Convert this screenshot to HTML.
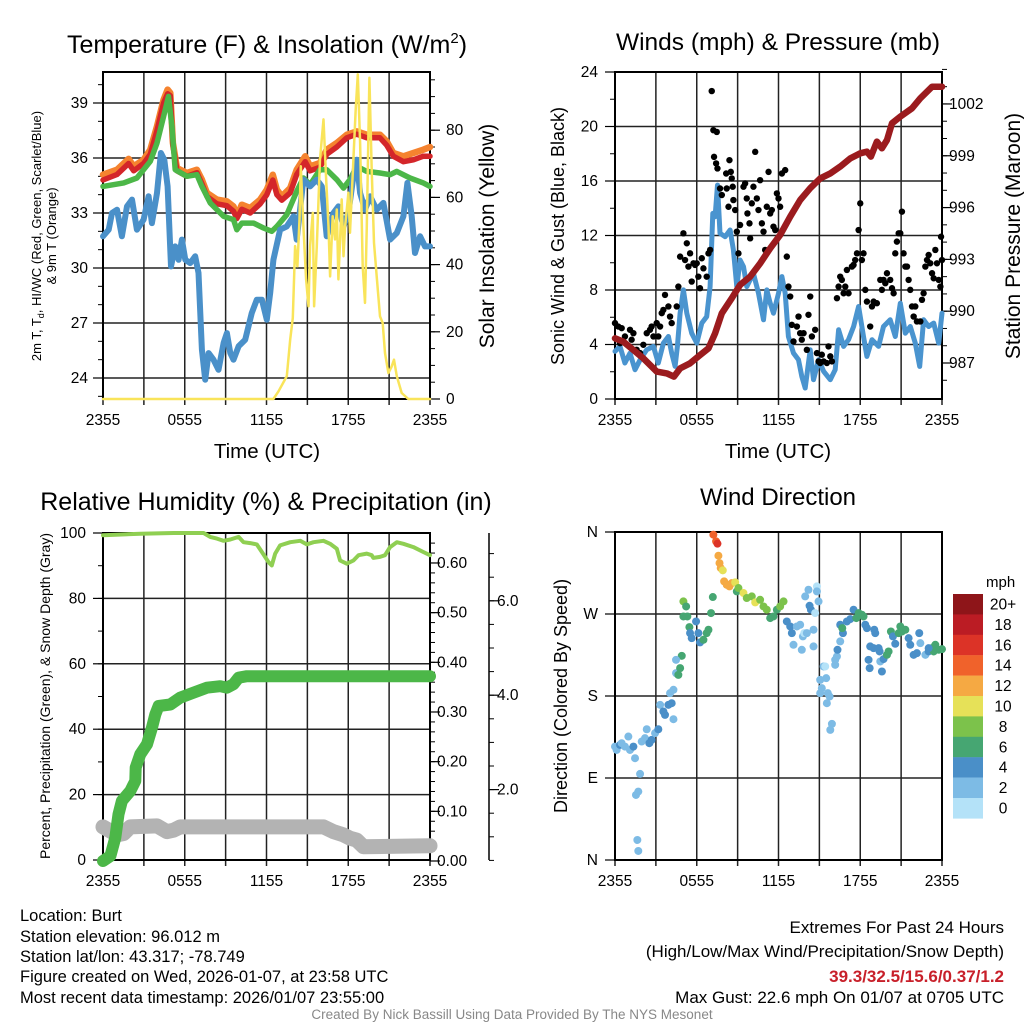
<!DOCTYPE html>
<html><head><meta charset="utf-8"><style>
html,body{margin:0;padding:0;background:#fff;}
svg{display:block;font-family:"Liberation Sans",Arial,sans-serif;}
</style></head><body>
<svg id="chart" width="1024" height="1024" viewBox="0 0 1024 1024">
<g id="g1"></g>
<g id="g2"></g>
<g id="g3"></g>
<g id="g4"></g>
<text x="267" y="53" font-size="25" text-anchor="middle">Temperature (F) &amp; Insolation (W/m<tspan dy="-10" font-size="15">2</tspan><tspan dy="10">)</tspan></text>
<text x="778" y="50" font-size="24.5" text-anchor="middle">Winds (mph) &amp; Pressure (mb)</text>
<text x="266" y="510" font-size="25" text-anchor="middle">Relative Humidity (%) &amp; Precipitation (in)</text>
<text x="778" y="505" font-size="24" text-anchor="middle">Wind Direction</text>
<g font-size="20.5" text-anchor="middle">
<text x="267" y="458">Time (UTC)</text>
<text x="778" y="458">Time (UTC)</text>
</g>
<text transform="translate(41,236) rotate(-90)" font-size="13" text-anchor="middle">2m T, T<tspan font-size="9" dy="3">d</tspan><tspan dy="-3">, HI/WC (Red, Green, Scarlet/Blue)</tspan></text>
<text transform="translate(56,236) rotate(-90)" font-size="13" text-anchor="middle">&amp; 9m T (Orange)</text>
<text transform="translate(494,236) rotate(-90)" font-size="21" text-anchor="middle">Solar Insolation (Yellow)</text>
<text transform="translate(564,236) rotate(-90)" font-size="18" text-anchor="middle">Sonic Wind &amp; Gust (Blue, Black)</text>
<text transform="translate(1020,236) rotate(-90)" font-size="21" text-anchor="middle">Station Pressure (Maroon)</text>
<text transform="translate(50,696) rotate(-90)" font-size="14" text-anchor="middle">Percent, Precipitation (Green), &amp; Snow Depth (Gray)</text>
<text transform="translate(567,696) rotate(-90)" font-size="18" text-anchor="middle">Direction (Colored By Speed)</text>
<text x="986" y="587" font-size="15">mph</text>
<g font-size="16.5">
<text x="20" y="921">Location: Burt</text>
<text x="20" y="942">Station elevation: 96.012 m</text>
<text x="20" y="962">Station lat/lon: 43.317; -78.749</text>
<text x="20" y="982">Figure created on Wed, 2026-01-07, at 23:58 UTC</text>
<text x="20" y="1003">Most recent data timestamp: 2026/01/07 23:55:00</text>
</g>
<g font-size="17" text-anchor="end">
<text x="1004" y="933">Extremes For Past 24 Hours</text>
<text x="1004" y="957">(High/Low/Max Wind/Precipitation/Snow Depth)</text>
<text x="1004" y="982" fill="#c8202a" font-weight="bold">39.3/32.5/15.6/0.37/1.2</text>
<text x="1004" y="1003">Max Gust: 22.6 mph On 01/07 at 0705 UTC</text>
</g>
<text x="512" y="1019" font-size="13.5" fill="#888" text-anchor="middle">Created By Nick Bassill Using Data Provided By The NYS Mesonet</text>
</svg>
<script>
// ---------- data (hours since 2355 UTC) ----------
const xTickLabels = ["2355","0555","1155","1755","2355"];
const tTimes = [0,1.03,1.88,2.25,2.98,3.47,3.96,4.45,4.74,4.94,5.13,5.43,6.16,6.89,7.26,7.63,8.36,9.09,9.58,9.82,10.19,10.8,11.54,12.02,12.46,12.76,13.12,13.74,14.22,14.84,15.2,15.93,16.42,17.16,17.89,18.62,19.36,20.33,20.82,21.31,22.05,22.78,23.51,24];
const temp9m = [35.09,35.36,35.95,35.55,35.91,36.45,37.73,39.18,39.73,39.55,36.82,35.45,35.18,35.36,34.82,34.09,33.73,33.64,33.36,32.82,33.45,33.27,33.73,34.27,35.09,34.27,33.91,34.36,35.36,36.09,35.55,35.73,36.45,36.82,37.27,37.45,37.27,37.27,36.91,36.27,36.09,36.27,36.45,36.6];
const temp2m = [34.8,35.1,35.7,35.3,35.7,36.2,37.5,39.0,39.5,39.4,36.7,35.3,35.0,35.2,34.6,33.9,33.5,33.4,33.1,32.7,33.2,33.0,33.5,34.0,34.8,34.0,33.7,34.1,35.1,35.8,35.3,35.5,36.2,36.6,37.1,37.3,37.1,37.1,36.7,36.1,35.8,35.9,36.1,36.1];
const dTimes = [0,1.52,2.49,3.47,3.96,4.45,4.81,5.06,5.3,6.16,6.89,7.26,7.87,8.85,9.58,9.82,10.19,11.05,11.78,12.39,12.76,13.49,14.22,14.71,15.2,15.93,16.42,17.16,17.65,18.13,18.62,19.36,20.33,21.07,21.56,22.53,23.51,24];
const dewpoint = [34.45,34.64,34.91,35.82,36.82,38.27,39.36,37.73,35.36,35.0,35.09,34.45,33.55,32.82,32.64,32.09,32.45,32.45,32.18,32.0,32.27,32.91,34.18,34.91,34.55,35.36,35.36,34.82,34.36,34.82,35.55,35.27,35.18,35.09,35.27,34.91,34.64,34.45];
const wcTimes = [0,0.42,0.66,1.03,1.39,1.76,2.13,2.49,2.98,3.35,3.59,3.96,4.25,4.5,4.74,4.99,5.3,5.55,5.79,6.04,6.4,6.77,7.01,7.26,7.5,7.75,8.11,8.48,8.85,9.09,9.34,9.58,9.95,10.44,10.92,11.29,11.66,12.02,12.27,12.51,13.0,13.49,13.98,14.22,14.71,15.2,15.69,16.06,16.42,16.91,17.28,17.65,18.01,18.38,18.62,18.87,19.23,19.6,20.09,20.58,21.07,21.56,22.05,22.34,22.66,22.9,23.27,23.63,24];
const windChill = [31.73,32.09,33.0,33.18,31.73,33.36,33.73,32.09,32.64,33.91,32.45,34.09,36.27,35.91,34.45,30.09,31.18,30.45,31.55,30.45,30.27,30.64,29.73,25.55,23.91,25.36,25.0,24.45,25.91,26.45,25.36,25.0,25.73,26.09,27.55,28.27,28.27,27.18,28.64,30.45,32.09,32.27,32.82,31.55,34.82,34.45,34.82,34.45,31.73,33.0,33.36,32.27,33.0,35.0,35.91,34.09,33.18,33.91,33.18,33.55,31.55,31.91,32.82,34.64,32.82,30.82,31.73,31.18,31.18];
const solTimes = [0,12.51,12.88,13.49,13.74,13.93,14.1,14.27,14.42,14.52,14.71,14.91,15.08,15.2,15.4,15.49,15.69,15.93,16.18,16.37,16.55,16.67,16.86,17.03,17.16,17.28,17.4,17.52,17.65,17.77,17.89,18.01,18.13,18.38,18.55,18.7,18.87,19.06,19.23,19.36,19.55,19.72,19.89,20.09,20.33,20.53,20.7,20.95,21.19,21.36,21.56,21.92,22.41,24];
const insolation = [0,0,2.3,6.8,17.7,24.1,45.5,39.5,53.4,69.3,51.4,35.6,27.6,45.5,55.4,27.6,45.5,71.3,83.2,66.3,51.4,36.5,54.4,47.5,56.4,35.6,47.5,59.4,42.5,51.4,56.4,61.4,49.5,71.3,86.2,96.6,76.3,39.5,28.6,51.4,95.6,68.3,46.5,36.5,24.6,22.6,13.7,7.7,9.7,11.7,6.8,1.8,0,0];
const tempTicks = [24,27,30,33,36,39];
const solTicks = [0,20,40,60,80];

const wTimes = [0,0.37,0.73,1.1,1.47,1.84,2.33,2.82,3.18,3.55,3.92,4.16,4.41,4.58,4.78,5.02,5.27,5.63,6.0,6.37,6.73,6.98,7.18,7.35,7.52,7.71,8.08,8.45,8.69,8.94,9.18,9.43,9.67,10.16,10.53,10.9,11.14,11.39,11.63,12.0,12.25,12.49,12.73,13.1,13.47,13.71,13.96,14.33,14.57,14.94,15.31,15.8,16.16,16.41,16.78,17.14,17.51,17.88,18.24,18.49,18.86,19.35,19.71,20.2,20.57,20.94,21.31,21.67,22.04,22.36,22.65,23.02,23.39,23.76,24];
const windSpeed = [3.49,3.86,2.64,3.37,2.15,2.88,3.61,3.86,2.64,4.1,4.59,3.37,2.39,3.86,6.3,8.01,6.3,4.83,4.1,5.57,6.05,8.25,13.62,13.38,15.7,12.16,11.91,12.4,10.94,8.25,10.2,9.72,8.25,9.23,7.76,5.81,8.01,7.03,6.3,7.76,8.98,7.76,4.59,3.37,2.88,1.66,0.81,3.61,1.42,2.88,2.03,1.42,2.15,5.08,3.86,4.35,5.32,6.79,4.59,3.13,4.35,3.86,5.32,5.81,4.59,7.03,4.83,5.32,4.1,2.39,5.81,5.32,5.57,4.1,6.3];
const gustTimes = [0,0.24,0.49,0.73,0.37,1.1,1.35,1.22,1.59,1.84,2.08,2.33,2.57,2.82,2.69,3.06,3.31,3.18,3.55,3.67,3.92,4.04,4.16,3.43,4.53,4.65,4.78,5.02,5.14,5.27,5.39,5.51,5.76,5.63,5.88,6.0,6.12,6.24,6.37,6.49,6.73,6.86,6.98,7.1,7.22,7.47,7.27,7.52,7.42,7.71,7.84,8.16,8.2,8.33,8.4,8.5,8.57,8.64,8.69,8.82,8.94,9.18,9.06,9.43,9.55,9.67,9.72,9.87,9.92,10.04,10.16,10.29,10.41,10.53,10.65,10.78,10.9,11.02,11.14,11.27,11.39,11.51,11.63,11.76,11.88,12.0,12.12,12.25,12.49,12.61,12.73,12.86,12.98,13.1,13.35,13.47,13.59,13.71,13.84,14.08,14.2,14.33,14.45,14.69,14.82,14.94,15.06,15.18,15.31,15.55,15.67,15.8,15.92,16.29,16.41,16.53,16.65,16.78,16.9,17.02,17.14,17.39,17.51,17.63,17.76,17.88,18.0,18.12,18.24,18.37,18.49,18.73,18.86,18.98,19.22,19.47,19.59,19.71,19.84,19.96,20.2,20.33,20.45,20.57,20.69,20.82,20.94,21.06,21.18,21.31,21.43,21.55,21.67,21.8,21.92,22.04,22.16,22.41,22.53,22.65,22.78,22.9,23.02,23.14,23.27,23.39,23.51,23.63,23.76,23.88,24.0,23.93];
const gustSpeed = [5.57,5.32,5.2,4.59,4.1,5.08,4.83,4.35,3.61,3.37,3.98,4.83,5.08,4.59,5.32,5.57,5.32,4.59,6.54,7.64,6.79,6.05,5.57,6.3,6.79,8.25,10.45,12.16,10.2,11.43,9.72,10.69,9.96,8.62,9.84,9.96,8.98,8.13,10.33,9.59,8.98,10.69,10.94,22.6,19.73,19.6,17.77,16.92,17.29,15.45,14.97,16.55,15.45,14.11,17.53,16.67,16.19,15.58,14.6,13.87,12.28,12.77,10.69,15.58,15.82,14.72,13.62,12.89,11.79,14.36,15.58,18.14,14.72,13.87,16.06,12.89,12.28,10.94,14.11,16.67,13.62,13.87,12.65,12.4,15.09,14.72,14.11,16.55,16.8,10.45,8.25,7.52,5.44,4.22,5.32,6.05,4.83,4.35,4.83,3.61,6.18,7.52,4.59,5.08,3.37,2.76,2.64,3.25,2.76,2.64,3.86,3.13,2.76,7.4,8.25,8.98,8.74,7.76,8.25,9.47,7.76,9.72,9.84,10.2,10.69,12.4,14.36,10.2,10.69,8.01,7.15,5.32,6.79,7.15,7.03,8.74,8.01,8.74,8.5,9.23,8.74,8.13,7.76,10.69,11.55,12.16,12.16,13.75,10.69,9.72,9.72,8.74,8.01,6.79,6.05,6.79,5.69,5.69,7.28,7.76,9.72,10.2,10.57,9.96,9.23,8.86,10.94,9.96,8.74,8.25,10.2,11.91];
const pTimes = [0,0.61,1.35,2.08,3.06,3.8,4.33,4.78,5.51,6.24,6.86,7.35,7.84,8.57,9.18,9.92,10.65,11.39,12.12,12.86,13.59,14.33,15.06,15.8,16.53,17.27,18.0,18.49,18.78,19.22,19.59,19.96,20.33,20.94,21.8,22.41,23.27,24];
const pressure = [988.43,988.24,987.75,987.27,986.5,986.4,986.21,986.69,986.98,987.46,987.85,988.72,989.88,990.75,991.52,992.0,992.77,993.64,994.41,995.47,996.44,997.12,997.69,997.98,998.37,998.85,999.14,999.24,998.95,999.82,999.43,999.91,1000.88,1001.27,1001.75,1002.33,1003.0,1003.0];
const windTicks = [0,4,8,12,16,20,24];
const presTicks = [987,990,993,996,999,1002];

const rhTimes = [0,2.74,5.18,7.38,7.87,8.36,8.85,9.34,9.95,10.31,10.8,11.29,11.66,12.15,12.39,12.64,13.0,13.74,14.47,14.96,15.45,16.18,16.67,17.16,17.4,17.89,18.38,18.75,19.36,19.72,19.84,20.33,20.7,21.07,21.56,22.05,22.78,23.51,24];
const rh = [99.3,99.8,100,100,98.8,98.3,97.6,98.0,98.8,97.2,96.9,96.5,94.2,91.1,90.1,93.7,96.2,97.2,97.6,96.5,97.2,97.6,96.7,95.2,91.6,90.6,91.6,93.2,93.7,93.2,92.4,92.7,93.2,95.7,97.2,96.7,95.7,94.2,93.2];
const prTimes = [0,0.54,0.9,1.14,1.39,2.0,2.37,2.4,2.74,3.23,3.59,3.84,4.08,4.94,5.67,6.65,7.62,8.6,9.09,9.58,9.95,10.56,24];
const precip = [0,0.01,0.047,0.094,0.121,0.141,0.161,0.188,0.215,0.235,0.268,0.295,0.312,0.315,0.329,0.339,0.349,0.352,0.349,0.356,0.369,0.372,0.372];
const snowTimes = [0,1.03,1.52,2.0,3.96,4.69,5.18,5.67,16.18,16.91,17.65,18.13,18.62,19.11,24];
const snowDepth = [1.21,1.04,1.07,1.21,1.23,1.11,1.14,1.21,1.21,1.11,1.04,0.97,0.93,0.79,0.81];
const rhTicks = [0,20,40,60,80,100];
const precipTicks = [0,0.1,0.2,0.3,0.4,0.5,0.6];
const snowTicks = [2,4,6];

const dirTimes = [0,0.12,0.37,0.49,0.73,0.98,1.1,1.35,1.47,1.84,1.54,1.71,1.64,1.71,1.96,2.2,2.33,2.52,2.69,2.94,3.18,3.31,3.55,3.67,3.92,4.16,4.29,4.04,4.29,4.48,4.65,4.78,4.9,4.48,5.02,5.22,5.02,5.31,5.46,5.51,5.63,5.95,6.12,6.24,6.49,6.73,6.86,7.05,7.18,7.22,7.42,7.52,7.59,7.67,7.76,7.91,8.01,8.2,8.4,8.57,8.82,8.94,9.06,9.43,9.67,10.04,10.29,10.65,10.9,11.14,11.39,11.63,11.88,12.12,12.37,12.61,12.86,12.98,13.1,13.35,13.59,13.79,13.89,14.08,13.71,14.57,14.57,13.96,14.2,14.82,14.82,14.94,14.28,14.38,14.69,15.31,15.06,15.43,15.5,15.18,15.06,15.62,15.75,15.55,15.92,15.8,16.16,16.29,16.16,16.33,16.53,16.73,16.53,16.68,17.02,17.27,17.51,17.71,17.88,18.12,18.24,18.37,18.49,19.03,19.1,18.73,18.98,19.35,19.42,18.61,18.69,19.47,19.59,19.71,19.96,20.08,20.25,20.4,20.57,20.82,20.94,21.06,21.31,21.55,21.67,21.92,22.16,22.33,22.41,22.78,23.02,23.27,23.51,23.76,24.0,23.39,23.02];
const dirDeg = [124.5,120.8,126.3,128.2,124.5,135.5,120.8,124.5,111.7,94.5,71.4,75.1,22.0,9.9,130.0,133.7,143.5,128.2,131.8,139.2,143.5,170.3,163.0,159.3,170.3,172.1,154.5,183.1,186.8,205.1,203.2,210.6,224.1,219.7,283.8,278.3,267.3,267.3,255.6,249.0,243.5,261.8,249.0,238.8,241.7,249.0,252.7,271.0,288.6,357.0,349.7,347.2,334.0,325.9,320.4,317.9,305.8,302.1,300.3,303.9,304.7,294.8,298.5,293.0,287.5,289.3,282.7,285.6,278.3,274.7,265.5,267.3,274.7,278.3,283.8,261.8,256.3,249.0,236.2,256.3,258.2,245.4,249.0,249.0,230.7,252.7,234.4,289.3,296.6,300.3,294.8,283.8,279.0,274.7,271.0,212.4,197.7,212.4,199.6,188.6,183.1,183.1,179.4,172.1,149.4,142.8,214.2,223.4,219.7,230.7,239.9,249.0,258.2,254.5,261.8,264.4,274.7,265.5,271.0,269.2,267.3,258.2,254.5,252.7,249.0,234.4,232.5,232.5,228.9,219.7,210.6,217.9,206.9,220.5,225.2,228.9,250.8,245.4,237.3,249.0,256.3,250.8,252.7,243.5,236.2,225.2,227.0,249.0,238.0,225.2,228.9,232.5,236.2,230.7,231.4,228.9,232.5];
const dirSpeed = [2,2,4,2,2,2,2,4,2,2,2,2,2,2,2,2,2,4,4,2,4,2,4,4,4,4,2,2,2,2,6,6,6,2,8,6,6,6,6,4,4,4,4,4,6,6,6,6,6,14,14,16,12,12,12,10,12,12,12,12,10,6,8,10,8,8,10,8,8,8,6,6,6,8,8,4,4,4,2,2,2,2,0,2,2,2,2,2,2,0,2,2,4,4,0,2,2,0,2,2,2,2,2,2,2,2,2,2,2,4,2,4,4,6,4,4,4,6,6,6,6,4,4,4,4,4,4,4,4,4,4,2,4,4,6,6,6,4,4,6,6,6,6,4,4,4,4,4,2,2,4,6,6,6,6,6,4,2];
const dirTicks = [0,90,180,270,360];
const dirTickLabels = ["N","E","S","W","N"];
const cbLabels = ["20+","18","16","14","12","10","8","6","4","2","0"];
const cbColors = ["#8e1519","#bb1c24","#dc3327","#f0622b","#f5a943","#e6e158","#7cc24b","#46a672","#4a8fc8","#7dbbe5","#b4e2f8"];

// ---------- scales ----------
const NS = "http://www.w3.org/2000/svg";
function mk(parent, tag, attrs){const e=document.createElementNS(NS,tag);for(const k in attrs)e.setAttribute(k,attrs[k]);parent.appendChild(e);return e;}
const L = {x0:103,x1:430}, R = {x0:615,x1:942};
const xL = t => L.x0 + t/24*(L.x1-L.x0);
const xR = t => R.x0 + t/24*(R.x1-R.x0);
const yTemp = v => 103 + (39-v)*55/3;
const ySol = v => 399 - v*3.36;
const yWind = v => 399 - v*327/24;
const yPres = p => 363 - (p-987)*17.27;
const yRH = v => 860 - v*3.27;
const yPr = p => 861 - p*496.7;
const ySnow = v => 884 - v*47.2;
const yDir = d => 860 - d*328/360;

function pathD(ts, vs, xf, yf){return ts.map((t,i)=>(i?'L':'M')+xf(t).toFixed(1)+','+yf(vs[i]).toFixed(1)).join('');}

function frame(g, px, y0, y1, hTicksY, nameBase){
  for(let h=0;h<=24;h+=3){
    const gl=mk(g,'line',{x1:px(h),x2:px(h),y1:y0,y2:y1+6,stroke:'#222','stroke-width':1.5});
    
    
  }
  hTicksY.forEach(y=>{
    const gl=mk(g,'line',{x1:px(0),x2:px(24),y1:y,y2:y,stroke:'#222','stroke-width':1.5});
    
    
  });
  const r=mk(g,'rect',{x:px(0),y:y0,width:px(24)-px(0),height:y1-y0,fill:'none',stroke:'#000','stroke-width':2});
  
  
  xTickLabels.forEach((lab,i)=>{
    const tx=mk(g,'text',{x:px(i*6),y:y1+26,'font-size':15.5,'text-anchor':'middle'});
    tx.textContent=lab;
    
    
  });
}
function yAxis(g, x, side, yf, majors, labels, minorFrom, minorTo, minorStep, labX, anchor){
  for(let v=minorFrom; v<=minorTo+1e-9; v+=minorStep){
    const y=yf(v);
    const tk=mk(g,'line',{x1:x,x2:x+side*5,y1:y,y2:y,stroke:'#000','stroke-width':1});
    
    
  }
  majors.forEach((v,i)=>{
    const y=yf(v);
    const tk=mk(g,'line',{x1:x,x2:x+side*10,y1:y,y2:y,stroke:'#000','stroke-width':1.2});
    
    
    const tx=mk(g,'text',{x:labX,y:y+5,'font-size':15.5,'text-anchor':anchor});
    tx.textContent=labels[i];
    
    
  });
}
function series(g, ts, vs, xf, yf, color, w, name){
  const p=mk(g,'path',{d:pathD(ts,vs,xf,yf),fill:'none',stroke:color,'stroke-width':w,'stroke-linejoin':'round','stroke-linecap':'round'});
  
  
}

// ---------- panel 1 ----------
const g1=document.getElementById('g1');
frame(g1,xL,72,399,tempTicks.map(yTemp),'temp');
yAxis(g1,103,-1,yTemp,tempTicks,tempTicks.map(String),23,40,1,88,'end');
yAxis(g1,430,1,ySol,solTicks,solTicks.map(String),0,95,5,446,'start');
series(g1,tTimes,temp9m,xL,yTemp,'#f5832f',6.5,'temp-9m-line');
series(g1,tTimes,temp2m,xL,yTemp,'#d4262a',5.5,'temp-2m-line');
series(g1,dTimes,dewpoint,xL,yTemp,'#4cb748',5.5,'dewpoint-line');
series(g1,wcTimes,windChill,xL,yTemp,'#4a90c9',6,'wind-chill-line');
series(g1,solTimes,insolation,xL,ySol,'#f9e45a',2.5,'insolation-line');

// ---------- panel 2 ----------
const g2=document.getElementById('g2');
frame(g2,xR,72,399,windTicks.map(yWind),'winds');
yAxis(g2,615,-1,yWind,windTicks,windTicks.map(String),0,24,2,598,'end');
yAxis(g2,942,1,yPres,presTicks,presTicks.map(String),986,1004,1,949,'start');
series(g2,wTimes,windSpeed,xR,yWind,'#4a94cf',5,'wind-speed-line');
gustTimes.forEach((t,i)=>{
  const c=mk(g2,'circle',{cx:xR(t),cy:yWind(gustSpeed[i]),r:3.2,fill:'#000'});
  
  
});
series(g2,pTimes,pressure,xR,yPres,'#9b1b1e',6.5,'pressure-line');

// ---------- panel 3 ----------
const g3=document.getElementById('g3');
frame(g3,xL,533,860,rhTicks.map(yRH),'humidity');
yAxis(g3,103,-1,yRH,rhTicks,rhTicks.map(String),0,100,10,86,'end');
yAxis(g3,430,1,yPr,precipTicks,precipTicks.map(v=>v.toFixed(2)),0,0.64,0.02,437,'start');
const sa=mk(g3,'line',{x1:489,x2:489,y1:533,y2:860,stroke:'#000','stroke-width':1.5});


yAxis(g3,489,1,ySnow,snowTicks,snowTicks.map(v=>v.toFixed(1)),0.5,7,0.5,497,'start');
series(g3,snowTimes,snowDepth,xL,ySnow,'#b3b3b3',15,'snow-depth-line');
series(g3,prTimes,precip,xL,yPr,'#4cb748',12,'precipitation-line');
series(g3,rhTimes,rh,xL,yRH,'#8fcf52',4,'relative-humidity-line');

// ---------- panel 4 ----------
const g4=document.getElementById('g4');
frame(g4,xR,532,860,dirTicks.map(yDir),'direction');
yAxis(g4,615,-1,yDir,dirTicks,dirTickLabels,0,0,1000,598,'end');
dirTimes.forEach((t,i)=>{
  const idx=Math.max(0,Math.min(10,10-Math.round(dirSpeed[i]/2)));
  const c=mk(g4,'circle',{cx:xR(t),cy:yDir(dirDeg[i]),r:4,fill:cbColors[idx]});
  
  
});
cbLabels.forEach((lab,i)=>{
  const y=594+i*20.4;
  const r=mk(g4,'rect',{x:953,y:y,width:30,height:20.6,fill:cbColors[i]});
  
  
  const tx=mk(g4,'text',{x:1003,y:y+15.5,'font-size':15.5,'text-anchor':'middle'});
  tx.textContent=lab;
  
  
});
</script>
</body></html>
